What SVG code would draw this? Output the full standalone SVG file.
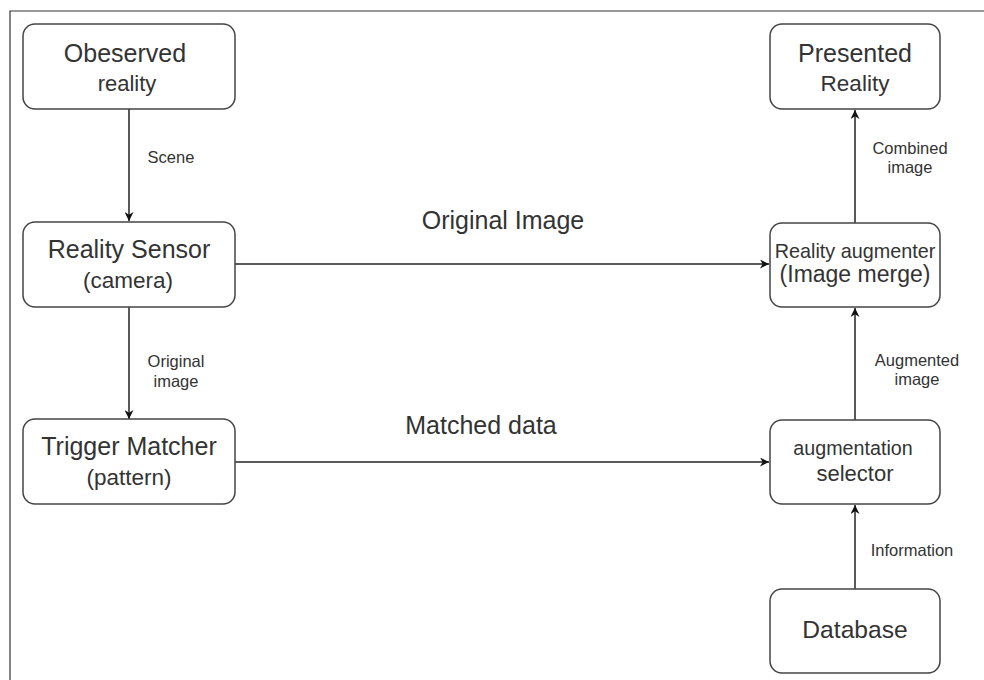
<svg xmlns="http://www.w3.org/2000/svg" width="984" height="680" viewBox="0 0 984 680">
<style>
.box{fill:#fff;stroke:#444;stroke-width:1.5}
.t{font-family:"Liberation Sans",Arial,sans-serif;fill:#333;text-anchor:middle}
.lbl{font-family:"Liberation Sans",Arial,sans-serif;fill:#333;text-anchor:middle;font-size:16.5px}
.edge{stroke:#222;stroke-width:1.5;fill:none;marker-end:url(#ah)}
</style>
<defs>
<marker id="ah" viewBox="0 0 10 10" refX="10" refY="5" markerWidth="9" markerHeight="9" markerUnits="userSpaceOnUse" orient="auto">
<path d="M0,0 L10,5 L0,10 L3,5 Z" fill="#111"/>
</marker>
</defs>
<rect width="984" height="680" fill="#fff"/>
<path d="M10,680 V11 H984" fill="none" stroke="#333" stroke-width="1.2"/>
<g id="connectors">
<line class="edge" x1="129" y1="109" x2="129" y2="221"/>
<line class="edge" x1="129" y1="307" x2="129" y2="419"/>
<line class="edge" x1="235" y1="264" x2="769" y2="264"/>
<line class="edge" x1="235" y1="462" x2="769" y2="462"/>
<line class="edge" x1="855" y1="223" x2="855" y2="110"/>
<line class="edge" x1="855" y1="420" x2="855" y2="308"/>
<line class="edge" x1="855" y1="589" x2="855" y2="505"/>
<text class="lbl" x="171" y="163">Scene</text>
<text class="lbl" x="176" y="367">Original</text>
<text class="lbl" x="176" y="387">image</text>
<text class="t" x="503" y="229" font-size="25">Original Image</text>
<text class="t" x="481" y="434" font-size="25">Matched data</text>
<text class="lbl" x="910" y="154">Combined</text>
<text class="lbl" x="910" y="173">image</text>
<text class="lbl" x="917" y="366">Augmented</text>
<text class="lbl" x="917" y="385">image</text>
<text class="lbl" x="912" y="556">Information</text>
</g>
<g id="observed">
<rect class="box" x="23" y="24" width="212" height="85" rx="12"/>
<text class="t" x="125" y="62" font-size="25">Obeserved</text>
<text class="t" x="127" y="91" font-size="22">reality</text>
</g>
<g id="sensor">
<rect class="box" x="23" y="222" width="212" height="85" rx="12"/>
<text class="t" x="129" y="258" font-size="25">Reality Sensor</text>
<text class="t" x="128" y="288" font-size="22.5">(camera)</text>
</g>
<g id="trigger">
<rect class="box" x="23" y="419" width="212" height="85" rx="12"/>
<text class="t" x="129" y="455" font-size="25">Trigger Matcher</text>
<text class="t" x="129" y="485" font-size="22.5">(pattern)</text>
</g>
<g id="presented">
<rect class="box" x="770" y="24" width="170" height="85" rx="12"/>
<text class="t" x="855" y="62" font-size="25">Presented</text>
<text class="t" x="855" y="91" font-size="22.5">Reality</text>
</g>
<g id="augmenter">
<rect class="box" x="770" y="223" width="170" height="84" rx="12"/>
<text class="t" x="855" y="258" font-size="19.8">Reality augmenter</text>
<text class="t" x="855" y="282" font-size="23">(Image merge)</text>
</g>
<g id="selector">
<rect class="box" x="770" y="420" width="170" height="84" rx="12"/>
<text class="t" x="853" y="455" font-size="19.7">augmentation</text>
<text class="t" x="855" y="481" font-size="22">selector</text>
</g>
<g id="database">
<rect class="box" x="770" y="589" width="170" height="84" rx="12"/>
<text class="t" x="855" y="638" font-size="24.6">Database</text>
</g>
</svg>
